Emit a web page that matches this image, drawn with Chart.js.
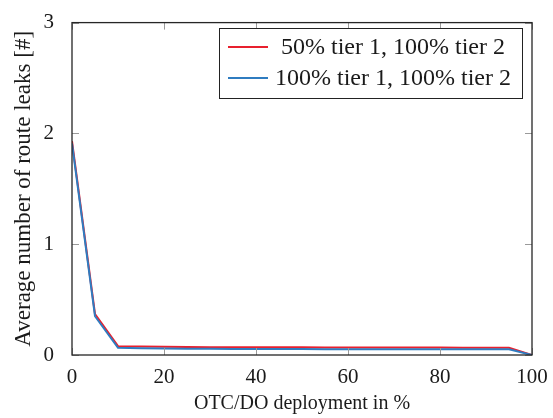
<!DOCTYPE html>
<html>
<head>
<meta charset="utf-8">
<script src="https://cdn.jsdelivr.net/npm/chart.js@4"></script>
<style>
  html, body { margin: 0; padding: 0; background: #fff; }
  canvas { display: block; }
</style>
</head>
<body>
<canvas id="chart" width="553" height="418"></canvas>
<script>
// deployment share in %
const deployment = [0, 5, 10, 15, 20, 25, 30, 35, 40, 45, 50, 55, 60, 65, 70, 75, 80, 85, 90, 95, 100];
// 50% tier 1, 100% tier 2
const halfTier1 = [1.93, 0.37, 0.08, 0.077, 0.074, 0.072, 0.071, 0.07, 0.07, 0.069, 0.069, 0.068, 0.068, 0.068, 0.067, 0.067, 0.067, 0.066, 0.066, 0.066, 0.0];
// 100% tier 1, 100% tier 2
const fullTier1 = [1.91, 0.35, 0.065, 0.062, 0.059, 0.057, 0.056, 0.055, 0.055, 0.054, 0.054, 0.053, 0.053, 0.053, 0.052, 0.052, 0.052, 0.051, 0.051, 0.051, 0.0];
const seriesNames = ["50% tier 1, 100% tier 2", "100% tier 1, 100% tier 2"];
const seriesColors = ["#e8202e", "#2f7cc0"];
const xTicks = [0, 20, 40, 60, 80, 100];
const yTicks = [0, 1, 2, 3];

const FONT = "'Liberation Serif', 'Times New Roman', serif";

function points(ys) {
  return deployment.map((x, i) => ({ x: x, y: ys[i] }));
}

// box + inward ticks like pgfplots
const frame = {
  id: "frame",
  afterDatasetsDraw(chart) {
    const c = chart.ctx;
    const a = chart.chartArea;
    const xs = chart.scales.x;
    const ys = chart.scales.y;
    c.save();
    c.strokeStyle = "#9a9a9a";
    c.lineWidth = 1;
    xTicks.forEach((v) => {
      const px = Math.round(xs.getPixelForValue(v)) + 0.5;
      c.beginPath();
      c.moveTo(px, a.bottom);
      c.lineTo(px, a.bottom - 7);
      c.moveTo(px, a.top);
      c.lineTo(px, a.top + 7);
      c.stroke();
    });
    yTicks.forEach((v) => {
      const py = Math.round(ys.getPixelForValue(v)) + 0.5;
      c.beginPath();
      c.moveTo(a.left, py);
      c.lineTo(a.left + 7, py);
      c.moveTo(a.right, py);
      c.lineTo(a.right - 7, py);
      c.stroke();
    });
    c.strokeStyle = "#262626";
    c.lineWidth = 1.3;
    c.strokeRect(a.left, a.top, a.right - a.left, a.bottom - a.top);

    // legend
    const bx = 219, by = 28, bw = 303, bh = 70;
    c.fillStyle = "#fff";
    c.fillRect(bx, by, bw, bh);
    c.strokeStyle = "#222";
    c.lineWidth = 1;
    c.strokeRect(bx + 0.5, by + 0.5, bw, bh);
    c.font = "24px " + FONT;
    c.textAlign = "center";
    c.textBaseline = "middle";
    seriesNames.forEach((name, i) => {
      const ly = by + 19 + i * 31;
      c.strokeStyle = seriesColors[i];
      c.lineWidth = 2;
      c.beginPath();
      c.moveTo(bx + 9, ly);
      c.lineTo(bx + 49, ly);
      c.stroke();
      c.fillStyle = "#1a1a1a";
      c.fillText(name, bx + 174, ly + 1);
    });
    c.restore();
  }
};

const ctx = document.getElementById("chart");
const chart = new Chart(ctx, {
  type: "line",
  data: {
    datasets: [
      {
        label: seriesNames[0],
        data: points(halfTier1),
        borderColor: seriesColors[0],
        borderWidth: 2,
        pointRadius: 0,
        tension: 0,
        fill: false,
        order: 1,
      },
      {
        label: seriesNames[1],
        data: points(fullTier1),
        borderColor: seriesColors[1],
        borderWidth: 2,
        pointRadius: 0,
        tension: 0,
        fill: false,
        order: 0,
      },
    ],
  },
  options: {
    responsive: false,
    animation: false,
    layout: { padding: { top: 20, right: 21, left: 0, bottom: 0 } },
    plugins: {
      legend: { display: false },
      tooltip: { enabled: false },
    },
    scales: {
      x: {
        type: "linear",
        min: 0,
        max: 100,
        afterBuildTicks: (s) => { s.ticks = xTicks.map((v) => ({ value: v })); },
        afterFit: (s) => { s.height = 63; },
        grid: { display: false },
        border: { display: false },
        ticks: { color: "#1a1a1a", font: { family: FONT, size: 21 }, padding: 2, maxRotation: 0 },
        title: {
          display: true,
          text: "OTC/DO deployment in %",
          color: "#1a1a1a",
          font: { family: FONT, size: 20 },
          padding: { top: 0, bottom: 2 },
        },
      },
      y: {
        min: 0,
        max: 3,
        afterBuildTicks: (s) => { s.ticks = yTicks.map((v) => ({ value: v })); },
        afterFit: (s) => { s.width = 72; },
        grid: { display: false },
        border: { display: false },
        ticks: { color: "#1a1a1a", font: { family: FONT, size: 21 }, padding: 10 },
        title: {
          display: true,
          text: "Average number of route leaks [#]",
          color: "#1a1a1a",
          font: { family: FONT, size: 23 },
          padding: { top: 10, bottom: 0 },
        },
      },
    },
  },
  plugins: [frame],
});
</script>
</body>
</html>
